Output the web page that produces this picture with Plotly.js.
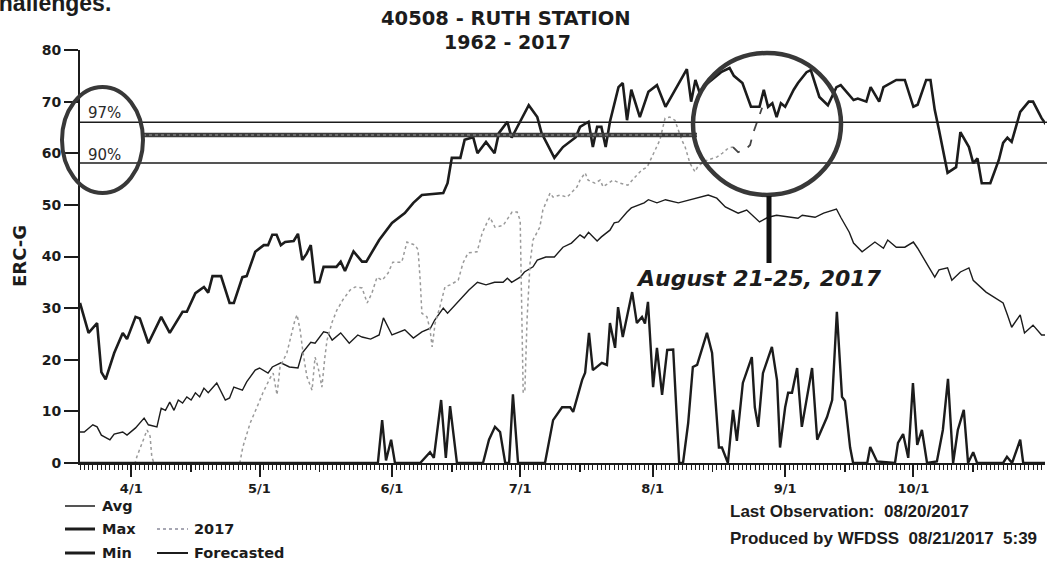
<!DOCTYPE html>
<html>
<head>
<meta charset="utf-8">
<script src="https://cdn.plot.ly/plotly-3.0.1.min.js"></script>
<style>html,body{margin:0;padding:0;background:#fff;}#chart{width:1047px;height:561px;}</style>
</head>
<body>
<div id="chart"></div>
<script>
// ---- DATA (day = days since 2017-03-20) ----
const maxDay = [0,2,4,5,6,8,10,11,13,14,16,19,21,24,25,27,29,30,31,33,35,36,38,39,41,43,44,45,46,47,48,50,51,52,53,54,55,56,57,60,61,62,64,66,67,69,70,73,76,78,80,85,86,87,89,90,92,93,95,97,98,100,101,105,107,108,111,113,116,117,119,120,121,122,123,124,126,127,128,129,131,133,135,137,142,143,144,145,146,149,150,152,153,155,157,159,160,161,162,163,164,165,167,168,170,171,172,173,175,177,178,181,182,184,185,187,188,191,193,195,196,198,199,200,201,203,205,206,208,209,210,211,213,215,216,217,218,220,222,223,225,226];
const maxVal = [31,25.2,27.1,17.6,16.2,21.3,25.2,24,28.3,28,23.2,28.3,25.2,29.3,29.3,32.9,34.1,33,36.2,36.2,31,31,36,36.2,40.9,42.2,42.2,44.2,44.2,42.2,42.8,43,44.4,39.3,40.5,42.2,35,35,38,38,39,37.2,41,39,39,41.8,43.2,46.5,48.4,50.4,51.9,52.3,54.2,59.1,59.1,62.6,63.1,60,62.2,60,63.9,66.1,63,69.3,67,63.9,59.1,61.2,63.1,65.1,66.1,61.2,65.1,65.1,61.2,66.1,72.8,73.6,66.4,72.3,67,71.9,73.2,69,76.3,70,74.2,71.7,73,75,75.7,76.5,75,73.6,69,69,72.3,69,69.7,67,69.7,69,72.3,73.6,75.7,76.1,73.6,70.9,69.3,72.8,73.2,70.3,70.6,70,72.8,70,72.8,74.2,74.2,69,69.4,74.2,74.2,68.4,64.5,56.2,57.3,64.1,61.2,58.1,59,54.2,54.2,58.7,62,63,62.2,68,70,70,66.8,65.6];

const avgDay = [0,1,3,4,5,7,8,10,11,13,15,16,18,19,20,21,22,23,24,25,26,27,28,29,30,32,34,35,36,38,39,41,42,44,45,46,47,49,51,52,54,55,57,58,59,61,63,65,66,68,70,71,73,76,78,80,82,83,85,86,89,91,93,95,97,99,100,101,103,104,106,107,109,111,113,115,117,118,119,121,122,124,125,126,128,129,132,133,135,137,140,143,147,149,151,154,156,159,161,163,166,168,169,172,174,177,178,180,181,183,186,188,189,191,193,195,196,198,200,201,203,204,206,208,209,212,214,215,216,217,218,220,221,223,225,226];
const avgVal = [6,6,7.4,7,5.4,4.5,5.6,6,5.4,6.8,8.7,7.4,7,10.6,10.2,11.8,10.2,12.2,11.6,12.8,12.2,13.6,12.8,14.5,13.6,15.5,12.2,12.6,14.7,14.1,15.7,18,18.4,17.4,18.6,19,19.4,18.6,18.4,21.3,23.4,23.2,25.4,25.2,23.8,25.2,23.2,24.8,24.4,24,24.8,28.1,24.8,25.8,24.2,25.4,26.1,27.7,30,29,31.6,33.5,35,34.5,35,35,35.8,35,36,37,38,39.3,39.9,39.9,41.8,42.6,44.2,43.6,44.7,43,43.8,45.1,46.5,46.7,48.6,49.4,50.4,51,50.4,51,50.4,51,51.9,51.3,49.6,48.4,49,46.7,47.6,48,47.6,47.4,48,47.6,48.4,49.2,47.6,44.7,42.6,40.9,42.8,41.6,43.2,41.8,41.8,42.8,41.6,38.9,36,37.4,37.8,35.4,37,37.8,35.4,33.1,32.1,31.6,31,28.7,26.3,28.7,25.2,26.7,24.8,24.8];

const minDay = [0,69.7,70.7,71.6,72.8,73.7,79.6,81.9,82.8,84.5,85.6,86.6,88.2,94.3,95.7,97.1,98.3,99.5,100.4,101.3,102.5,108.8,110.7,112.8,114.7,115.4,117.5,118.2,119.1,120,122.1,123.3,124,125.2,125.9,127,129.2,130.3,131.5,132.2,132.9,134.1,135,136.2,137.4,138.8,140.2,141.1,142.3,143.4,144.4,146.7,147.9,149.5,150.2,151.6,152.8,153.7,155.1,157.2,157.9,158.7,159.8,161.9,163.1,163.8,165,165.7,166.6,167.8,168.9,171.3,172.5,174.8,176,177.1,178.3,179,180.2,180.9,184.2,184.9,186.5,190.7,191.4,192.6,193.8,194.9,195.9,197,198.2,200.5,201.9,203.1,204.3,205.4,206.8,207.8,209,209.9,216,216.9,218.1,220,220.7,225.8];
const minVal = [0,0,8.3,0.5,4.5,0,0,2.1,1,12.2,1,11,0,0,4.5,7,6,0,0,13.3,0,0,8.3,10.8,10.8,9.9,16.1,17.5,25.2,18,19.4,19,27.1,22.3,30.2,24.4,33.1,27.1,28.3,27,31.2,14.7,22.3,13.2,21.9,22,0,0,7.7,18.6,19,25.2,21.3,3,3,0,10.3,4.3,15.5,20.5,10.8,7,17.4,22.5,16,3,10.8,13.6,13.6,18.4,7,18.4,4.5,8.9,12.2,29.3,12.8,12,3,0,0,3.1,0.3,0,3.9,5.6,1,15.5,3.5,6.4,0,0.3,6.4,16.3,0,6.4,10.3,0,2.1,0,0,1.2,0,4.5,0,0];

const obsDay = [0,12.9,13.3,14.5,15.7,16.4,16.8,17.3,37.4,38.1,39.8,41.4,42.8,44.5,45.2,46.1,46.8,48.4,49.1,50.3,50.8,51.5,52.2,53.1,54.3,55,55.7,56.6,57.3,57.8,59,60.1,61.5,63.2,64.4,66,67.2,68.3,69.5,70.7,72.1,73.2,75.3,76.5,78.4,79.1,79.6,80,81.2,81.9,82.4,83.1,84.2,85.4,86.6,88.5,89.6,90.8,92.9,94.1,95.2,95.9,97.1,99,101.1,102.3,103,103.4,103.7,104.1,104.6,105.3,106,107.6,108.3,110,110.7,112.3,114,116.3,117,118.2,118.9,120.5,121.7,122.4,124.7,126.4,128.2,129.9,131.5,132.7,134.1,135.7,136.9,138,139.2,140.8,141.6,142.7,143.9,144.6,146.3,149.1,150.3,151.7,152.8];
const obsVal = [0,0,1.2,3.9,6.4,5.2,1.2,0,0,3.1,7.7,10.8,13.6,16.5,17.4,13.2,18.6,21.3,23.8,27.7,28.7,25.8,21.3,16.7,14.1,20.5,18.6,14.7,20.5,23.8,27.3,29.6,31.6,33.5,34.1,33.9,31,32.9,36,35.4,36.8,38.9,38.9,42.8,42.2,41.3,35.4,29,28.3,25.8,22.5,27.1,30.2,34.1,34.5,35.4,38.7,40.7,40.9,44.5,46.5,47.6,45.7,46,48.6,48.6,47,24.4,13.6,14.2,27.7,38.7,43.2,45.7,49,52.3,51.5,51.9,51.5,53.5,54.8,56.2,54.8,54.2,54.8,53.5,54.8,54.2,53.8,55.4,56.8,57.3,59.7,62.6,66.8,67,66.4,62.6,61.2,58.1,56.4,57.5,58.5,59.3,60,61,61.2];

const fcDay = [152.8,154,156.1,156.8,157.5,158.4,159.6];
const fcVal = [61.2,60.2,61,61.6,63.9,65.9,68.8];

const pct97 = 66.0, pct90 = 58.1;
const yTicks = [0,10,20,30,40,50,60,70,80];
const midMonthTicks = ['2017-04-15','2017-05-15','2017-06-15','2017-07-15','2017-08-15','2017-09-15','2017-10-15'];

// ---- helpers ----
const base = Date.UTC(2017, 2, 20);
const toDate = arr => arr.map(d => new Date(base + d * 86400000).toISOString().slice(0,19).replace('T',' '));
const PX = x => (x - 80) / 965;     // reference pixel -> paper x
const PY = y => (463 - y) / 413;    // reference pixel -> paper y
const INK = '#1c1c1c';
const xRange = ['2017-03-20', '2017-10-31 19:12:00'];

const traces = [
  {x: toDate(avgDay), y: avgVal, mode:'lines', line:{color:INK, width:1.4}, name:'Avg', hoverinfo:'skip'},
  {x: toDate(obsDay), y: obsVal, mode:'lines', line:{color:'#9a9a9a', width:1.5, dash:'dot'}, name:'2017', hoverinfo:'skip'},
  {x: toDate(minDay), y: minVal, mode:'lines', line:{color:INK, width:2.4}, name:'Min', hoverinfo:'skip'},
  {x: toDate(maxDay), y: maxVal, mode:'lines', line:{color:INK, width:2.6}, name:'Max', hoverinfo:'skip'},
  {x: toDate(fcDay), y: fcVal, mode:'lines', line:{color:'#444', width:1.8, dash:'dash'}, name:'Forecasted', hoverinfo:'skip'},
  {x: [], y: [], xaxis:'x2', mode:'lines', showlegend:false, hoverinfo:'skip'}
];

const boldFont = (size, fam) => ({family: fam || 'DejaVu Sans', size: size, color: INK, weight: 'bold'});

const shapes = [
  // percentile lines
  {type:'line', xref:'paper', yref:'y', x0:0, x1:1.01, y0:pct97, y1:pct97, line:{color:INK, width:1.5}},
  {type:'line', xref:'paper', yref:'y', x0:0, x1:1.01, y0:pct90, y1:pct90, line:{color:INK, width:1.5}},
  // connector band between circles
  {type:'line', xref:'paper', yref:'paper', x0:PX(143), x1:PX(697), y0:PY(135), y1:PY(135), line:{color:'#3c3c3c', width:4.5}},
  {type:'line', xref:'paper', yref:'paper', x0:PX(143), x1:PX(697), y0:PY(135), y1:PY(135), line:{color:'#9a9a9a', width:1, dash:'dot'}},
  // left ellipse
  {type:'circle', xref:'paper', yref:'paper', x0:PX(62), x1:PX(143), y0:PY(193), y1:PY(87), line:{color:'#383838', width:4}},
  // right circle
  {type:'circle', xref:'paper', yref:'paper', x0:PX(693), x1:PX(841), y0:PY(195), y1:PY(53), line:{color:'#383838', width:4.5}},
  // pointer bar
  {type:'line', xref:'paper', yref:'paper', x0:PX(769), x1:PX(769), y0:PY(196), y1:PY(263), line:{color:'#111', width:5}},
  // legend samples
  {type:'line', xref:'paper', yref:'paper', x0:PX(65), x1:PX(95), y0:PY(506), y1:PY(506), line:{color:INK, width:1.5}},
  {type:'line', xref:'paper', yref:'paper', x0:PX(65), x1:PX(95), y0:PY(529), y1:PY(529), line:{color:INK, width:3}},
  {type:'line', xref:'paper', yref:'paper', x0:PX(65), x1:PX(95), y0:PY(553), y1:PY(553), line:{color:INK, width:3}},
  {type:'line', xref:'paper', yref:'paper', x0:PX(157), x1:PX(188), y0:PY(529), y1:PY(529), line:{color:'#8a8a9a', width:1.5, dash:'dot'}},
  {type:'line', xref:'paper', yref:'paper', x0:PX(157), x1:PX(188), y0:PY(553), y1:PY(553), line:{color:INK, width:2}}
];

const ann = (text, x, y, font, opts) => Object.assign({text:text, xref:'paper', yref:'paper', x:PX(x), y:PY(y), showarrow:false, font:font, xanchor:'left', yanchor:'middle'}, opts || {});
const NB = '\u00a0';
const annotations = [
  ann('challenges.', 113, 3, boldFont(23, 'Liberation Sans'), {xanchor:'right'}),
  ann('40508 - RUTH STATION', 506, 18, boldFont(19.5), {xanchor:'center'}),
  ann('1962 - 2017', 507, 42, boldFont(19), {xanchor:'center'}),
  ann('ERC-G', 19, 256, boldFont(18), {xanchor:'center', textangle:-90}),
  ann('97%', 86, 113, {family:'DejaVu Sans', size:15, color:'#2a2a2a'}),
  ann('90%', 86, 155, {family:'DejaVu Sans', size:15, color:'#2a2a2a'}),
  ann('<i>August 21-25, 2017</i>', 634, 278, boldFont(22)),
  ann('Avg', 100, 506, boldFont(14.5)),
  ann('Max', 100, 529, boldFont(14.5)),
  ann('Min', 100, 553, boldFont(14.5)),
  ann('2017', 192, 529, boldFont(14.5)),
  ann('Forecasted', 192, 553, boldFont(14.5)),
  ann('Last Observation:' + NB + NB + '08/20/2017', 728, 512, boldFont(17, 'Liberation Sans')),
  ann('Produced by WFDSS' + NB + NB + '08/21/2017' + NB + NB + '5:39', 728, 538, boldFont(17, 'Liberation Sans'))
];

const layout = {
  width: 1047, height: 561,
  margin: {l:80, r:2, t:50, b:98, pad:0},
  paper_bgcolor: '#fff', plot_bgcolor: '#fff',
  showlegend: false,
  xaxis: {
    type:'date', range:xRange, showgrid:false, zeroline:false,
    showline:true, linecolor:INK, linewidth:2,
    tick0:'2017-04-01', dtick:'M1', tickformat:'%-m/%-d',
    ticks:'outside', ticklen:12, tickwidth:2, tickcolor:INK,
    tickfont: boldFont(13),
    minor: {dtick:86400000, tick0:'2017-03-20', ticks:'outside', ticklen:5, tickwidth:1, tickcolor:INK, showgrid:false},
    automargin:false, fixedrange:true
  },
  xaxis2: {
    type:'date', range:xRange, overlaying:'x', anchor:'y', side:'bottom',
    showgrid:false, zeroline:false, showline:false,
    tickvals: midMonthTicks, showticklabels:false,
    ticks:'outside', ticklen:8, tickwidth:1.5, tickcolor:INK,
    automargin:false, fixedrange:true
  },
  yaxis: {
    range:[0,80], tickvals:yTicks, showgrid:false, zeroline:false,
    showline:true, linecolor:INK, linewidth:2,
    ticks:'outside', ticklen:14, tickwidth:2, tickcolor:INK,
    tickfont: boldFont(14), automargin:false, fixedrange:true
  },
  shapes: shapes,
  annotations: annotations
};

Plotly.newPlot('chart', traces, layout, {staticPlot:true, displayModeBar:false});
</script>
</body>
</html>
